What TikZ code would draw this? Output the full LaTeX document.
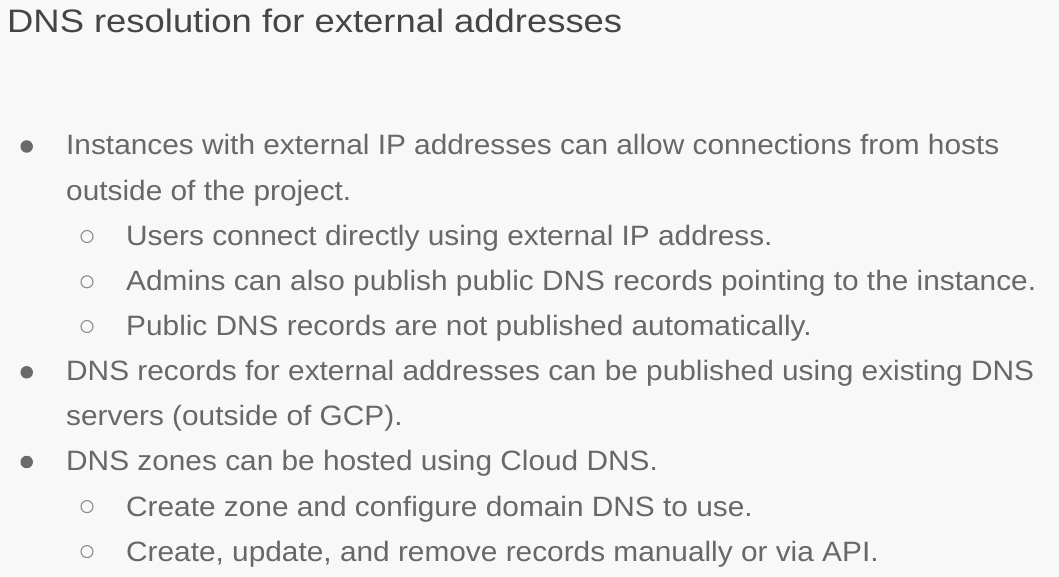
\documentclass[tikz,border=0pt]{standalone}
\usepackage{fontspec}
\setmainfont{Liberation Sans}
\newfontfamily\titlefont{Liberation Sans}[FakeStretch=1.12]
\newfontfamily\bodyfont{Liberation Sans}[FakeStretch=1.065]
\definecolor{bg}{HTML}{F8F8F8}
\definecolor{titlec}{HTML}{454545}
\definecolor{bodyc}{HTML}{686868}
\definecolor{dotc}{HTML}{6A6A6A}
\definecolor{ringc}{HTML}{8C8C8C}
\begin{document}
\begin{tikzpicture}[x=1pt,y=-1pt,
  titletext/.style={anchor=base west,inner sep=0pt,text=titlec,font=\titlefont\fontsize{32.5}{38}\selectfont},
  bodytext/.style={anchor=base west,inner sep=0pt,text=bodyc,font=\bodyfont\fontsize{28}{34}\selectfont},
  dotbullet/.style={circle,fill=dotc,inner sep=0pt,minimum size=12.5pt},
  ringbullet/.style={circle,draw=ringc,line width=1.1pt,inner sep=0pt,minimum size=12pt}]
\fill[bg] (0,0) rectangle (1059,577);
\useasboundingbox (0,0) rectangle (1059,577);
\node[titletext] (title) at (7,32.3) {DNS resolution for external addresses};
% level 1
\node[dotbullet] (b1) at (26.7,146.5) {};
\node[bodytext] (t1a) at (66,155) {Instances with external IP addresses can allow connections from hosts};
\node[bodytext] (t1b) at (66,200.1) {outside of the project.};
\node[ringbullet] (s1) at (87,236.5) {};
\node[bodytext] (t11) at (126,245.6) {Users connect directly using external IP address.};
\node[ringbullet] (s2) at (87,281.8) {};
\node[bodytext] (t12) at (126,290.8) {Admins can also publish public DNS records pointing to the instance.};
\node[ringbullet] (s3) at (87,326.5) {};
\node[bodytext] (t13) at (126,335.6) {Public DNS records are not published automatically.};
\node[dotbullet] (b2) at (26.7,372.3) {};
\node[bodytext] (t2a) at (66,380.8) {DNS records for external addresses can be published using existing DNS};
\node[bodytext] (t2b) at (66,425.4) {servers (outside of GCP).};
\node[dotbullet] (b3) at (26.7,462) {};
\node[bodytext] (t3) at (66,470.4) {DNS zones can be hosted using Cloud DNS.};
\node[ringbullet] (s4) at (87,506.6) {};
\node[bodytext] (t31) at (126,516) {Create zone and configure domain DNS to use.};
\node[ringbullet] (s5) at (87,551.6) {};
\node[bodytext] (t32) at (126,561) {Create, update, and remove records manually or via API.};
\end{tikzpicture}
\end{document}
